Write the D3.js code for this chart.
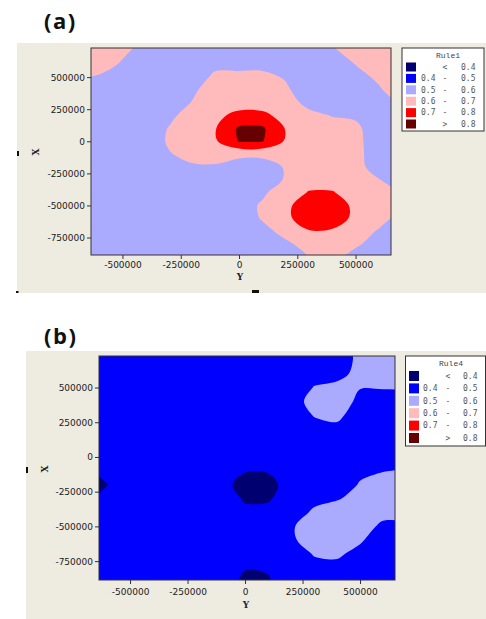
<!DOCTYPE html>
<html>
<head>
<meta charset="utf-8">
<script src="https://cdn.jsdelivr.net/npm/d3@7"></script>
<style>
  body { margin: 0; background: #fff; }
  svg { display: block; }
</style>
</head>
<body>
<svg id="chart" width="486" height="619"></svg>
<script>
const gridX = [-700000, -600000, -500000, -400000, -300000, -200000, -100000, 0,
               100000, 200000, 300000, 400000, 500000, 600000, 700000];
const gridY = [800000, 700000, 600000, 500000, 400000, 300000, 200000, 100000, 0,
               -100000, -200000, -300000, -400000, -500000, -600000, -700000, -800000, -900000];

// Rule1 (panel a)
const surfaceA = [
  [.665,.665,.647,.585,.535,.535,.535,.535,.535,.535,.558,.618,.665,.665,.665],
  [.665,.665,.619,.558,.535,.535,.550,.550,.550,.535,.535,.582,.642,.665,.665],
  [.665,.648,.587,.535,.535,.553,.582,.583,.583,.569,.535,.541,.602,.663,.665],
  [.596,.587,.572,.535,.535,.562,.616,.616,.616,.595,.535,.535,.571,.615,.665],
  [.555,.553,.535,.535,.535,.586,.642,.650,.650,.610,.564,.535,.535,.590,.650],
  [.535,.535,.535,.535,.558,.604,.655,.655,.655,.640,.574,.535,.535,.560,.610],
  [.535,.535,.535,.540,.580,.640,.677,.730,.725,.665,.626,.597,.590,.550,.575],
  [.535,.535,.535,.545,.605,.650,.697,.815,.815,.695,.650,.630,.615,.560,.550],
  [.535,.535,.535,.550,.610,.660,.690,.805,.805,.688,.650,.650,.620,.560,.540],
  [.535,.535,.535,.545,.595,.623,.645,.620,.620,.670,.650,.650,.623,.560,.540],
  [.535,.535,.535,.535,.545,.590,.587,.560,.560,.607,.650,.650,.626,.566,.540],
  [.535,.535,.535,.535,.535,.535,.540,.550,.550,.608,.670,.670,.655,.603,.560],
  [.535,.535,.535,.535,.535,.535,.535,.535,.582,.660,.705,.705,.670,.640,.600],
  [.535,.535,.535,.535,.535,.535,.535,.553,.613,.680,.750,.750,.680,.640,.605],
  [.535,.535,.535,.535,.535,.535,.535,.550,.607,.680,.750,.745,.680,.630,.570],
  [.535,.535,.535,.535,.535,.535,.535,.535,.575,.625,.695,.690,.640,.592,.540],
  [.535,.535,.535,.535,.535,.535,.535,.535,.540,.585,.630,.650,.615,.560,.540],
  [.535,.535,.535,.535,.535,.535,.535,.535,.535,.560,.602,.628,.566,.540,.535]
];

// Rule4 (panel b)
const surfaceB = [
  [.45,.45,.45,.45,.45,.45,.45,.45,.45,.45,.45,.46,.518,.55,.55],
  [.45,.45,.45,.45,.45,.45,.45,.45,.45,.45,.45,.46,.518,.55,.55],
  [.45,.45,.45,.45,.45,.45,.45,.45,.45,.45,.474,.481,.518,.55,.55],
  [.45,.45,.45,.45,.45,.45,.45,.45,.45,.45,.503,.516,.503,.505,.505],
  [.45,.45,.45,.45,.45,.45,.45,.45,.45,.468,.525,.545,.48,.467,.467],
  [.45,.45,.45,.45,.45,.45,.45,.45,.45,.45,.504,.517,.462,.45,.45],
  [.45,.45,.45,.45,.45,.45,.45,.45,.45,.45,.471,.482,.455,.45,.45],
  [.45,.45,.45,.45,.45,.45,.45,.45,.45,.45,.45,.45,.45,.45,.45],
  [.45,.45,.45,.45,.45,.45,.45,.44,.44,.45,.45,.45,.45,.465,.467],
  [.39,.42,.45,.45,.45,.45,.44,.405,.405,.45,.45,.45,.482,.497,.505],
  [.36,.398,.45,.45,.45,.45,.425,.37,.375,.432,.45,.45,.507,.53,.535],
  [.39,.42,.45,.45,.45,.45,.445,.39,.39,.445,.48,.495,.52,.55,.55],
  [.45,.45,.45,.45,.45,.45,.45,.42,.425,.462,.512,.53,.55,.522,.518],
  [.45,.45,.45,.45,.45,.45,.45,.45,.45,.49,.545,.56,.532,.485,.483],
  [.45,.45,.45,.45,.45,.45,.45,.45,.45,.486,.54,.545,.51,.452,.45],
  [.45,.45,.45,.45,.45,.45,.45,.45,.45,.45,.505,.512,.475,.45,.45],
  [.42,.43,.45,.45,.45,.45,.45,.405,.408,.45,.475,.478,.45,.45,.45],
  [.37,.41,.45,.45,.45,.45,.45,.372,.39,.45,.45,.45,.45,.45,.45]
];

const breaks = [0.4, 0.5, 0.6, 0.7, 0.8];
const classColors = ["#000070", "#0000ff", "#aaaaff", "#ffbbbb", "#ff0000", "#660000"];
const legendRows = [
  ["", "<", "0.4"],
  ["0.4", "-", "0.5"],
  ["0.5", "-", "0.6"],
  ["0.6", "-", "0.7"],
  ["0.7", "-", "0.8"],
  ["", ">", "0.8"]
];
const xTicks = [-500000, -250000, 0, 250000, 500000];
const yTicks = [-750000, -500000, -250000, 0, 250000, 500000];
const xDomain = [-635000, 652000];
const yDomain = [-886000, 727000];

const panels = [
  {
    name: "a", tag: "(a)", tagPos: [44, 28.5], rule: "Rule1", values: surfaceA,
    frame: [17, 43, 469, 250],
    plot: {left: 91, right: 391, top: 48, bottom: 255},
    xPad: 3, yPad: 2,
    xTitle: [240, 280], yTitle: [36, 152],
    legend: {x: 402, y: 48, w: 82, h: 83, titleX: 448, titleY: 58, row0: 67, step: 11.4,
             swX: 406, swW: 10, swH: 9, lx: 421, sx: 445, rx: 461},
    marks: [[17, 151, 2, 5], [16, 291, 2.5, 2], [252, 290, 7, 3]]
  },
  {
    name: "b", tag: "(b)", tagPos: [44, 344], rule: "Rule4", values: surfaceB,
    frame: [26, 351, 460, 268],
    plot: {left: 99, right: 395, top: 356, bottom: 580},
    xPad: 4.5, yPad: 2,
    xTitle: [246, 608], yTitle: [45, 469],
    legend: {x: 405.5, y: 356, w: 80, h: 90, titleX: 451, titleY: 366, row0: 376, step: 12.4,
             swX: 409, swW: 10, swH: 10, lx: 423, sx: 448, rx: 463},
    marks: [[26, 467, 2, 6]]
  }
];

const svg = d3.select("#chart");

function drawPanel(p) {
  const g = svg.append("g");

  g.append("rect")
    .attr("x", p.frame[0]).attr("y", p.frame[1])
    .attr("width", p.frame[2]).attr("height", p.frame[3])
    .attr("fill", "#eeebe1");

  const x = d3.scaleLinear().domain(xDomain).range([p.plot.left, p.plot.right]);
  const y = d3.scaleLinear().domain(yDomain).range([p.plot.bottom, p.plot.top]);
  // contour coords put grid node i at i + 0.5
  const gx = d3.scaleLinear().domain([0.5, gridX.length - 0.5]).range([gridX[0], gridX[gridX.length - 1]]);
  const gy = d3.scaleLinear().domain([0.5, gridY.length - 0.5]).range([gridY[0], gridY[gridY.length - 1]]);

  const clipId = "clip-" + p.name;
  g.append("clipPath").attr("id", clipId)
    .append("rect")
    .attr("x", p.plot.left).attr("y", p.plot.top)
    .attr("width", p.plot.right - p.plot.left)
    .attr("height", p.plot.bottom - p.plot.top);

  const bands = d3.contours()
    .size([gridX.length, gridY.length])
    .thresholds(breaks)(p.values.flat());

  const ringLine = d3.line()
    .x(d => x(gx(d[0])))
    .y(d => y(gy(d[1])))
    .curve(d3.curveCatmullRomClosed.alpha(0.5));

  const map = g.append("g").attr("clip-path", `url(#${clipId})`);
  map.append("rect")
    .attr("x", p.plot.left).attr("y", p.plot.top)
    .attr("width", p.plot.right - p.plot.left)
    .attr("height", p.plot.bottom - p.plot.top)
    .attr("fill", classColors[0]);

  map.selectAll("path")
    .data(bands)
    .join("path")
    .attr("fill", (d, i) => classColors[i + 1])
    .attr("fill-rule", "evenodd")
    .attr("d", d => d.coordinates
      .map(poly => poly.map(ring => ringLine(ring.slice(0, -1))).join(""))
      .join(""));

  g.append("rect")
    .attr("x", p.plot.left).attr("y", p.plot.top)
    .attr("width", p.plot.right - p.plot.left)
    .attr("height", p.plot.bottom - p.plot.top)
    .attr("fill", "none")
    .attr("stroke", "#333")
    .attr("stroke-width", 1);

  // axes
  const fmt = d => String(d);
  const xAxis = g.append("g")
    .attr("transform", `translate(0, ${p.plot.bottom})`)
    .call(d3.axisBottom(x).tickValues(xTicks).tickSize(4).tickPadding(p.xPad).tickFormat(fmt));
  const yAxis = g.append("g")
    .attr("transform", `translate(${p.plot.left}, 0)`)
    .call(d3.axisLeft(y).tickValues(yTicks).tickSize(4).tickPadding(p.yPad).tickFormat(fmt));
  [xAxis, yAxis].forEach(a => {
    a.select(".domain").remove();
    a.selectAll("line").attr("stroke", "#333");
    a.selectAll("text")
      .attr("fill", "#222")
      .style("font", "9px 'DejaVu Sans', sans-serif");
  });

  g.append("text")
    .attr("x", p.xTitle[0]).attr("y", p.xTitle[1])
    .attr("text-anchor", "middle")
    .style("font", "bold 9px 'DejaVu Serif', serif")
    .attr("fill", "#222")
    .text("Y");

  g.append("text")
    .attr("transform", `translate(${p.yTitle[0]}, ${p.yTitle[1]}) rotate(-90)`)
    .attr("text-anchor", "middle")
    .attr("dy", "0.35em")
    .style("font", "bold 9px 'DejaVu Serif', serif")
    .attr("fill", "#222")
    .text("X");

  p.marks.forEach(m => {
    g.append("rect").attr("x", m[0]).attr("y", m[1]).attr("width", m[2]).attr("height", m[3]).attr("fill", "#111");
  });

  // legend
  const L = p.legend;
  const lg = g.append("g");
  lg.append("rect")
    .attr("x", L.x).attr("y", L.y).attr("width", L.w).attr("height", L.h)
    .attr("fill", "#fff").attr("stroke", "#333");
  lg.append("text")
    .attr("x", L.titleX).attr("y", L.titleY)
    .attr("text-anchor", "middle")
    .style("font", "8px 'Liberation Mono', monospace")
    .attr("fill", "#444")
    .text(p.rule);

  const rows = lg.selectAll("g.row")
    .data(legendRows)
    .join("g")
    .attr("class", "row")
    .attr("transform", (d, i) => `translate(0, ${L.row0 + i * L.step})`);
  rows.append("rect")
    .attr("x", L.swX).attr("y", -L.swH / 2)
    .attr("width", L.swW).attr("height", L.swH)
    .attr("fill", (d, i) => classColors[i]);
  const labelFont = "8px 'DejaVu Sans Mono', monospace";
  rows.append("text").attr("x", L.lx).attr("dy", "0.35em")
    .style("font", labelFont).attr("fill", "#555").text(d => d[0]);
  rows.append("text").attr("x", L.sx).attr("dy", "0.35em").attr("text-anchor", "middle")
    .style("font", labelFont).attr("fill", "#555").text(d => d[1]);
  rows.append("text").attr("x", L.rx).attr("dy", "0.35em")
    .style("font", labelFont).attr("fill", "#555").text(d => d[2]);

  // panel tag
  svg.append("text")
    .attr("x", p.tagPos[0]).attr("y", p.tagPos[1])
    .style("font", "bold 22px 'Open Sans', sans-serif")
    .style("letter-spacing", "1.5px")
    .attr("fill", "#111")
    .text(p.tag);
}

panels.forEach(drawPanel);
</script>
</body>
</html>
